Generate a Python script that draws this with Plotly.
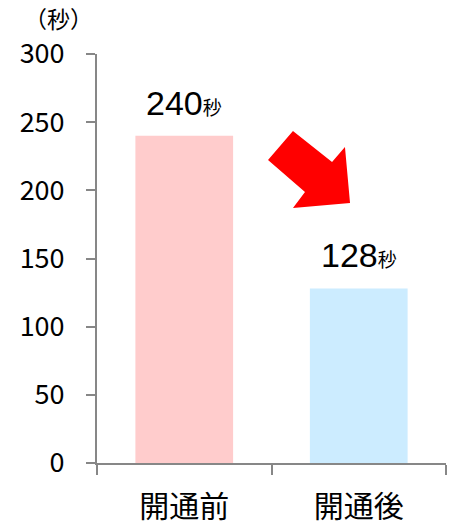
import plotly.graph_objects as go

categories = ["開通前", "開通後"]
values = [240, 128]
bar_colors = ["#FFCCCC", "#CCECFF"]
unit = "秒"
y_ticks = [0, 50, 100, 150, 200, 250, 300]

# decorative arrow outline (data coords: category index, value)
arrow_x = [0.623, 0.847, 0.921, 0.950, 0.623, 0.692, 0.480]
arrow_y = [243.5, 220.8, 231.8, 190.7, 187.0, 198.8, 222.3]

W, H = 472, 525
ML, MR, MT, MB = 97, 26, 54, 62

fig = go.Figure()
fig.add_trace(go.Bar(
    x=categories, y=values, marker_color=bar_colors, marker_line_width=0,
    width=0.56, hoverinfo="skip",
))

path = "M " + " L ".join(f"{x},{y}" for x, y in zip(arrow_x, arrow_y)) + " Z"
fig.add_shape(type="path", path=path, xref="x", yref="y",
              fillcolor="#FF0000", line=dict(width=0), layer="above")

for c, v in zip(categories, values):
    fig.add_annotation(
        x=c, y=v, xref="x", yref="y", yanchor="bottom", yshift=12,
        text=f"{v}<span style='font-size:19px'>{unit}</span>",
        showarrow=False,
        font=dict(family="Arial, Liberation Sans, Noto Sans CJK JP", size=34, color="#000000"),
    )

fig.add_annotation(
    x=(58 - ML) / (W - ML - MR), y=1 + (MT - 18) / (H - MT - MB),
    xref="paper", yref="paper", xanchor="center", yanchor="middle",
    text="（秒）", showarrow=False,
    font=dict(family="Noto Sans CJK JP", size=23, color="#000000"),
)

axis_col = "#878787"
fig.update_layout(
    width=W, height=H,
    margin=dict(l=ML, r=MR, t=MT, b=MB),
    plot_bgcolor="#FFFFFF", paper_bgcolor="#FFFFFF",
    showlegend=False,
    font=dict(family="Noto Sans CJK JP", color="#000000"),
    xaxis=dict(
        showline=True, linecolor=axis_col, linewidth=2,
        ticks="outside", tickson="boundaries", ticklen=10, tickcolor=axis_col, tickwidth=2,
        tickfont=dict(size=30, family="Noto Sans CJK JP"), ticklabelstandoff=16,
        showgrid=False, zeroline=False, range=[-0.5, 1.5], automargin=False,
    ),
    yaxis=dict(
        range=[0, 300], tickvals=y_ticks,
        showline=True, linecolor=axis_col, linewidth=2,
        ticks="outside", ticklen=9, tickcolor=axis_col, tickwidth=2,
        tickfont=dict(size=27, family="Noto Sans CJK JP"), ticklabelstandoff=16,
        showgrid=False, zeroline=False, automargin=False,
    ),
)

fig.write_html("out.html")
